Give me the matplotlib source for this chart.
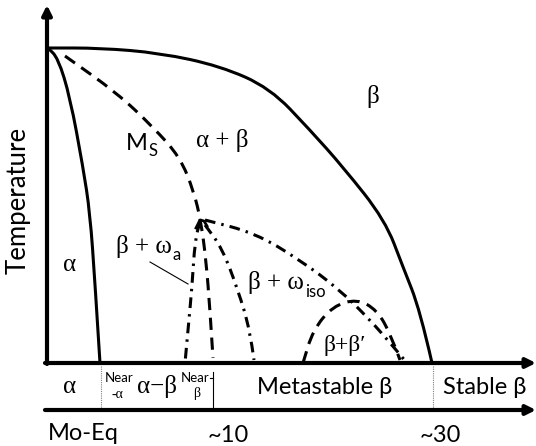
import matplotlib.pyplot as plt
from matplotlib.path import Path
from matplotlib.patches import PathPatch

# Schematic phase diagram, coordinates (pixel units,
# x to the right = more Mo-eq, y downward = lower temperature)
beta_transus_x = [48, 100, 160, 220, 270, 310, 343, 385, 403, 420, 432]
beta_transus_y = [48, 48, 53, 66, 88, 130, 167, 220, 267, 310, 363]

alpha_x = [48, 58, 70, 83, 90, 95, 100]
alpha_y = [48, 58, 97, 167, 213, 283, 363]

ms_x = [65, 117, 153, 180, 194, 201, 206, 210, 213]
ms_y = [56, 93, 127, 157, 192, 222, 260, 310, 358]

omega_a_x = [200, 195, 192, 188, 185]
omega_a_y = [222, 240, 287, 330, 363]

omega_iso_x = [205, 255, 300, 340, 370, 392, 407]
omega_iso_y = [220, 233, 260, 290, 320, 345, 363]

omega_iso2_x = [205, 222, 238, 250, 254]
omega_iso2_y = [225, 248, 290, 330, 360]

bb_x = [303, 313, 333, 357, 377, 391, 400]
bb_y = [363, 330, 306, 299, 310, 335, 360]

band_labels = ["Metastable β", "Stable β"]
tick_labels = ["Mo-Eq", "~10", "~30"]

GREEK = "Liberation Serif"
SANS = "Lato"


def smooth(ax, xs, ys, **kw):
    # quadratic bezier through the midpoints of the read points
    pts = list(zip(xs, ys))
    verts = [pts[0]]
    codes = [Path.MOVETO]
    m = ((pts[0][0] + pts[1][0]) / 2, (pts[0][1] + pts[1][1]) / 2)
    verts.append(m)
    codes.append(Path.LINETO)
    for i in range(1, len(pts) - 1):
        nxt = pts[i + 1]
        end = nxt if i == len(pts) - 2 else ((pts[i][0] + nxt[0]) / 2, (pts[i][1] + nxt[1]) / 2)
        verts += [pts[i], end]
        codes += [Path.CURVE3, Path.CURVE3]
    ax.add_patch(PathPatch(Path(verts, codes), fill=False, color="black",
                           capstyle="butt", **kw))


def sub(ax, parent, s, size=11):
    # subscript placed right after a text artist
    ax.annotate(s, xy=(1, 0.12), xycoords=parent, xytext=(0.5, 0),
                textcoords="offset points", ha="left", va="center",
                fontsize=size, family=SANS)


fig = plt.figure(figsize=(5.36, 4.46), dpi=100)
ax = fig.add_axes([0, 0, 1, 1])
ax.set_xlim(0, 536)
ax.set_ylim(446, 0)
ax.axis("off")

# axes with arrows
arrow = dict(arrowstyle="-|>", lw=3, color="black", mutation_scale=14,
             shrinkA=0, shrinkB=0)
ax.annotate("", xy=(47, 5), xytext=(47, 364), arrowprops=arrow)
ax.annotate("", xy=(536, 363), xytext=(45, 363), arrowprops=arrow)
ax.annotate("", xy=(536, 410), xytext=(45, 410), arrowprops=arrow)

# phase boundaries
smooth(ax, beta_transus_x, beta_transus_y, lw=2.2)
smooth(ax, alpha_x, alpha_y, lw=2.2)
smooth(ax, ms_x, ms_y, lw=2.2, linestyle=(0, (4, 2.5)))
smooth(ax, omega_a_x, omega_a_y, lw=2.2, linestyle=(0, (3.5, 2, 0.8, 2)))
smooth(ax, omega_iso_x, omega_iso_y, lw=2.2, linestyle=(0, (3.5, 2, 0.8, 2)))
smooth(ax, omega_iso2_x, omega_iso2_y, lw=2.2, linestyle=(0, (3.5, 2, 0.8, 2)))
smooth(ax, bb_x, bb_y, lw=2.2, linestyle=(0, (4, 2.5)))
# small curl at the apex
ax.plot([196, 200, 204, 207], [228, 220, 221, 226], color="black", lw=2)

# pointer for beta + omega_a
ax.plot([150, 188], [262, 284], color="black", lw=0.8)

# region labels
ax.text(18, 200, "Temperature", rotation=90, ha="center", va="center",
        fontsize=18.5, family=SANS)
ax.text(373, 97, "β", ha="center", va="center", fontsize=18, family=GREEK)
t = ax.text(126, 143, "M", ha="left", va="center", fontsize=17, family=SANS)
sub(ax, t, "S", 12)
ax.text(222, 140, "α + β", ha="center", va="center", fontsize=18, family=GREEK)
ax.text(70, 265, "α", ha="center", va="center", fontsize=18, family=GREEK)
t = ax.text(116, 246, "β + ω", ha="left", va="center", fontsize=18, family=GREEK)
sub(ax, t, "a", 12)
t = ax.text(248, 283, "β + ω", ha="left", va="center", fontsize=18, family=GREEK)
sub(ax, t, "iso", 12)
ax.text(345, 345, "β+β′", ha="center", va="center", fontsize=17, family=GREEK)

# bottom band
ax.plot([101, 101], [366, 408], color="gray", lw=0.8, linestyle=(0, (1, 1)))
ax.plot([433, 433], [366, 408], color="gray", lw=0.8, linestyle=(0, (1, 1)))
ax.plot([213, 213], [372, 408], color="black", lw=0.8)
ax.plot([210, 213], [378, 378], color="black", lw=0.8)
ax.text(70, 387, "α", ha="center", va="center", fontsize=18, family=GREEK)
ax.text(105, 378, "Near", ha="left", va="center", fontsize=9.5, family=SANS)
ax.text(112, 394, "-α", ha="left", va="center", fontsize=10, family=GREEK)
ax.text(157, 387, "α−β", ha="center", va="center", fontsize=18, family=GREEK)
ax.text(181, 378, "Near", ha="left", va="center", fontsize=9.5, family=SANS)
ax.text(193, 394, "β", ha="left", va="center", fontsize=10, family=GREEK)
ax.text(325, 387, band_labels[0], ha="center", va="center", fontsize=17,
        family=[SANS, GREEK])
ax.text(485, 387, band_labels[1], ha="center", va="center", fontsize=17,
        family=[SANS, GREEK])

# composition marks
ax.text(48, 434, tick_labels[0], ha="left", va="center", fontsize=17, family=SANS)
ax.text(228, 436, tick_labels[1], ha="center", va="center", fontsize=17, family=SANS)
ax.text(440, 436, tick_labels[2], ha="center", va="center", fontsize=17, family=SANS)

fig.savefig("out.png", dpi=100)
